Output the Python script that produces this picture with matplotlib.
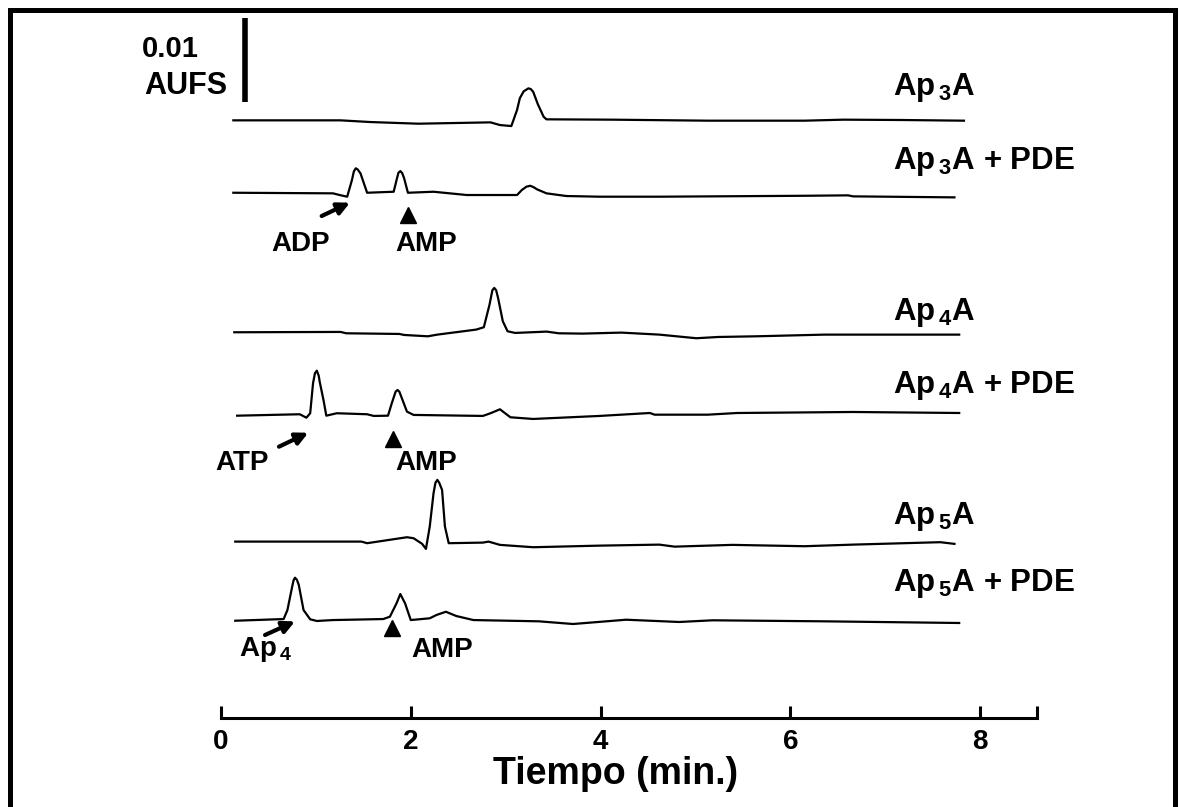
import matplotlib
matplotlib.use("Agg")
import matplotlib.pyplot as plt
from matplotlib.patches import Rectangle

plt.rcParams['font.family'] = ['Liberation Sans', 'DejaVu Sans']
plt.rcParams['font.weight'] = 'bold'
plt.rcParams['mathtext.fontset'] = 'custom'
plt.rcParams['mathtext.bf'] = 'Liberation Sans:bold'
plt.rcParams['mathtext.rm'] = 'Liberation Sans:bold'

# chromatograms, time in min, signal in mAU above each baseline
ap3a_t = [0.13, 1.26, 1.57, 2.08, 2.84, 2.94, 3.06, 3.12, 3.15, 3.19, 3.24, 3.265, 3.29, 3.34, 3.40, 3.43, 4.12, 5.13, 6.15, 6.56, 7.17, 7.83]
ap3a_v = [0.0, 0.0, -0.2, -0.4, -0.24, -0.56, -0.68, 1.23, 2.65, 3.45, 3.81, 3.72, 3.40, 1.9, 0.43, 0.12, 0.08, -0.04, -0.04, 0.08, 0.04, -0.04]

ap3a_pde_t = [0.13, 1.18, 1.25, 1.33, 1.38, 1.40, 1.42, 1.44, 1.47, 1.54, 1.82, 1.85, 1.87, 1.89, 1.91, 1.93, 1.97, 2.24, 2.59, 3.12, 3.17, 3.22, 3.26, 3.30, 3.33, 3.43, 3.64, 3.99, 4.62, 6.15, 6.61, 6.66, 7.73]
ap3a_pde_v = [0.07, 0.0, -0.2, -0.4, 1.58, 2.6, 2.98, 2.85, 2.38, 0.07, 0.19, 1.58, 2.45, 2.65, 2.4, 1.79, 0.07, 0.19, -0.2, -0.2, 0.39, 0.8, 0.90, 0.7, 0.48, 0.0, -0.32, -0.40, -0.40, -0.29, -0.24, -0.36, -0.48]

ap4a_t = [0.14, 1.26, 1.32, 1.88, 1.93, 2.18, 2.28, 2.69, 2.77, 2.83, 2.86, 2.88, 2.90, 2.92, 2.97, 3.02, 3.10, 3.35, 3.43, 3.56, 3.81, 4.22, 4.62, 5.01, 5.24, 5.64, 6.36, 6.66, 7.78]
ap4a_v = [0.0, 0.04, -0.12, -0.20, -0.32, -0.48, -0.28, 0.32, 0.60, 3.29, 5.0, 5.28, 5.0, 4.09, 1.31, 0.12, -0.08, 0.04, 0.08, -0.12, -0.16, -0.04, -0.28, -0.71, -0.56, -0.48, -0.28, -0.28, -0.28]

ap4a_pde_t = [0.17, 0.83, 0.90, 0.94, 0.97, 0.99, 1.01, 1.03, 1.04, 1.08, 1.11, 1.22, 1.54, 1.61, 1.76, 1.80, 1.84, 1.86, 1.88, 1.90, 1.96, 2.03, 2.76, 2.84, 2.94, 3.05, 3.29, 3.99, 4.52, 4.57, 5.13, 5.44, 6.66, 7.78]
ap4a_pde_v = [-0.05, 0.12, -0.29, 0.24, 3.81, 5.0, 5.31, 4.7, 4.0, 1.82, -0.05, 0.24, 0.12, -0.08, -0.05, 1.43, 2.8, 3.01, 2.8, 2.21, 0.43, 0.04, -0.08, 0.24, 0.71, -0.24, -0.44, -0.08, 0.27, 0.07, 0.07, 0.27, 0.39, 0.27]

ap5a_t = [0.15, 1.48, 1.54, 1.96, 2.03, 2.12, 2.16, 2.20, 2.24, 2.26, 2.28, 2.30, 2.33, 2.36, 2.40, 2.76, 2.82, 2.94, 3.29, 3.99, 4.62, 4.78, 5.39, 6.15, 6.66, 7.58, 7.73]
ap5a_v = [0.0, 0.0, -0.19, 0.52, 0.40, -0.27, -0.87, 1.79, 5.76, 7.0, 7.35, 7.0, 6.15, 1.79, -0.19, -0.12, 0.0, -0.39, -0.67, -0.48, -0.36, -0.60, -0.39, -0.55, -0.36, -0.07, -0.27]

ap5a_pde_t = [0.15, 0.66, 0.70, 0.75, 0.765, 0.78, 0.80, 0.82, 0.87, 0.94, 1.01, 1.18, 1.71, 1.78, 1.85, 1.89, 1.94, 2.00, 2.20, 2.27, 2.37, 2.48, 2.66, 3.35, 3.71, 4.27, 4.83, 5.18, 6.35, 7.78]
ap5a_pde_v = [-0.12, 0.08, 1.15, 3.93, 4.7, 5.0, 4.75, 4.13, 1.15, 0.05, -0.15, -0.04, 0.08, 0.36, 1.95, 3.06, 1.95, -0.04, 0.17, 0.56, 0.95, 0.44, -0.04, -0.19, -0.51, 0.0, -0.27, -0.07, -0.19, -0.39]

traces = [(ap3a_t, ap3a_v), (ap3a_pde_t, ap3a_pde_v), (ap4a_t, ap4a_v),
          (ap4a_pde_t, ap4a_pde_v), (ap5a_t, ap5a_v), (ap5a_pde_t, ap5a_pde_v)]
trace_names = [r'Ap$_{\,\mathbf{3}}$A', r'Ap$_{\,\mathbf{3}}$A + PDE', r'Ap$_{\,\mathbf{4}}$A',
               r'Ap$_{\,\mathbf{4}}$A + PDE', r'Ap$_{\,\mathbf{5}}$A', r'Ap$_{\,\mathbf{5}}$A + PDE']
baselines = [71.15, 62.46, 45.92, 36.04, 21.0, 11.7]
name_y = [75.0, 66.3, 48.3, 39.6, 24.0, 16.0]

xticks = [0, 2, 4, 6, 8]

fig = plt.figure(figsize=(11.8, 8.07), dpi=100)
ax = fig.add_axes([221 / 1180, 89 / 807, 816 / 1180, 718 / 807])
ax.set_xlim(0, 8.6)
ax.set_ylim(0, 718 / 8.4)

for (t, v), b in zip(traces, baselines):
    ax.plot(t, [b + s for s in v], color='black', lw=1.6, solid_joinstyle='round')

for name, y in zip(trace_names, name_y):
    ax.text(7.08, y, name, fontsize=22.5, fontweight='bold', va='center', ha='left')

# scale bar 0.01 AUFS = 10 mAU
ax.plot([0.258, 0.258], [73.3, 83.3], color='black', lw=4, solid_capstyle='butt', clip_on=False)
ax.text(-0.83, 79.6, '0.01', fontsize=21, fontweight='bold', va='center', ha='left')
ax.text(-0.81, 75.2, 'AUFS', fontsize=22, fontweight='bold', va='center', ha='left')

arrow = dict(arrowstyle='-|>', lw=3, mutation_scale=18, color='black', shrinkA=0, shrinkB=0)
# peak annotations
ax.annotate('', xy=(1.359, 61.35), xytext=(1.061, 59.76), arrowprops=arrow)
ax.text(0.843, 56.4, 'ADP', fontsize=20, fontweight='bold', ha='center', va='center')
ax.plot(1.97, 59.9, marker='^', color='black', ms=11)
ax.text(2.16, 56.4, 'AMP', fontsize=20, fontweight='bold', ha='center', va='center')

ax.annotate('', xy=(0.920, 33.96), xytext=(0.611, 32.3), arrowprops=arrow)
ax.text(0.227, 30.4, 'ATP', fontsize=20, fontweight='bold', ha='center', va='center')
ax.plot(1.816, 33.2, marker='^', color='black', ms=11)
ax.text(2.16, 30.4, 'AMP', fontsize=20, fontweight='bold', ha='center', va='center')

ax.annotate('', xy=(0.780, 11.5), xytext=(0.464, 9.88), arrowprops=arrow)
ax.text(0.19, 8.1, r'Ap$_{\,\mathbf{4}}$', fontsize=20, fontweight='bold', ha='left', va='center')
ax.plot(1.807, 10.7, marker='^', color='black', ms=11)
ax.text(2.33, 8.1, 'AMP', fontsize=20, fontweight='bold', ha='center', va='center')

# time axis
for s in ['top', 'left', 'right']:
    ax.spines[s].set_visible(False)
ax.spines['bottom'].set_linewidth(2.2)
ax.set_yticks([])
ax.set_xticks(xticks + [8.6])
ax.set_xticklabels([str(x) for x in xticks] + [''])
ax.tick_params(axis='x', direction='in', length=9, width=2.2, pad=8)
for lab in ax.get_xticklabels():
    lab.set_fontsize(20)
    lab.set_fontweight('bold')
fig.text(616 / 1180, (807 - 774) / 807, 'Tiempo (min.)', fontsize=27, fontweight='bold',
         ha='center', va='center')

fig.patches.append(Rectangle((10 / 1180, -0.02), 1165 / 1180, 1 - 10 / 807 + 0.02,
                             transform=fig.transFigure, fill=False, lw=3.6, ec='black'))

fig.savefig('out.png', dpi=100)
